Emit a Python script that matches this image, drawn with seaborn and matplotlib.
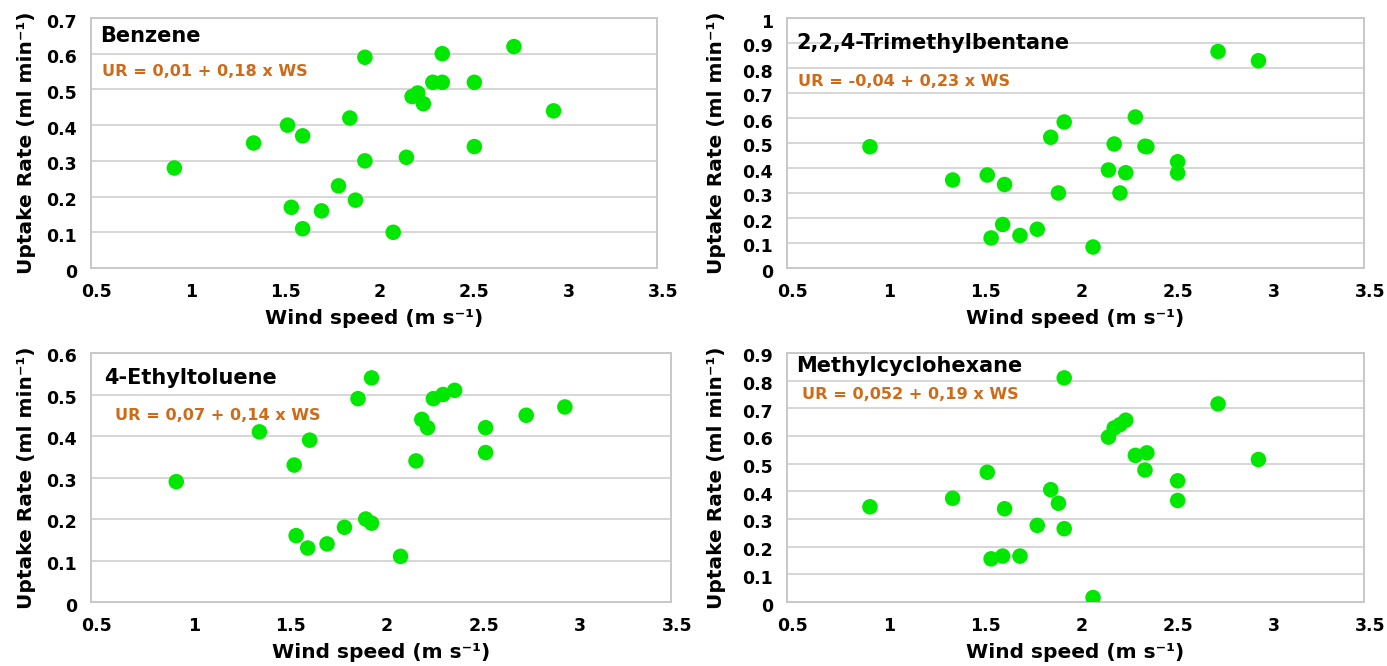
import numpy as np
import pandas as pd
import matplotlib
matplotlib.use("Agg")
import matplotlib.pyplot as plt
import matplotlib.transforms as mtransforms
from matplotlib.ticker import FuncFormatter
import seaborn as sns

# ---------------- data ----------------
titles = ["Benzene", "2,2,4-Trimethylbentane", "4-Ethyltoluene", "Methylcyclohexane"]
equations = ["UR = 0,01 + 0,18 x WS", "UR = -0,04 + 0,23 x WS",
             "UR = 0,07 + 0,14 x WS", "UR = 0,052 + 0,19 x WS"]

ws_benzene = [0.91, 1.33, 1.51, 1.59, 1.53, 1.59, 1.69, 1.78, 1.84, 1.87, 1.92, 1.92,
              2.07, 2.14, 2.17, 2.20, 2.23, 2.28, 2.33, 2.33, 2.50, 2.50, 2.71, 2.92]
ur_benzene = [0.28, 0.35, 0.40, 0.37, 0.17, 0.11, 0.16, 0.23, 0.42, 0.19, 0.59, 0.30,
              0.10, 0.31, 0.48, 0.49, 0.46, 0.52, 0.52, 0.60, 0.52, 0.34, 0.62, 0.44]

ws_trimethyl = [0.90, 1.33, 1.51, 1.60, 1.53, 1.59, 1.68, 1.77, 1.84, 1.88, 1.91, 2.06,
                2.14, 2.17, 2.20, 2.23, 2.28, 2.33, 2.34, 2.50, 2.50, 2.71, 2.92]
ur_trimethyl = [0.485, 0.352, 0.372, 0.334, 0.12, 0.174, 0.13, 0.155, 0.523, 0.30, 0.584, 0.084,
                0.392, 0.496, 0.30, 0.381, 0.604, 0.487, 0.485, 0.425, 0.38, 0.866, 0.829]

ws_ethyl = [0.91, 1.34, 1.52, 1.60, 1.53, 1.59, 1.69, 1.78, 1.85, 1.89, 1.92, 1.92,
            2.07, 2.15, 2.18, 2.21, 2.24, 2.29, 2.35, 2.51, 2.51, 2.72, 2.92]
ur_ethyl = [0.29, 0.41, 0.33, 0.39, 0.16, 0.13, 0.14, 0.18, 0.49, 0.20, 0.19, 0.54,
            0.11, 0.34, 0.44, 0.42, 0.49, 0.50, 0.51, 0.42, 0.36, 0.45, 0.47]

ws_methyl = [0.90, 1.33, 1.51, 1.60, 1.53, 1.59, 1.68, 1.77, 1.84, 1.88, 1.91, 1.91,
             2.06, 2.14, 2.17, 2.20, 2.23, 2.28, 2.34, 2.33, 2.50, 2.50, 2.71, 2.92]
ur_methyl = [0.344, 0.375, 0.469, 0.337, 0.156, 0.166, 0.166, 0.277, 0.406, 0.357, 0.81, 0.265,
             0.016, 0.596, 0.629, 0.641, 0.657, 0.53, 0.539, 0.477, 0.438, 0.367, 0.716, 0.515]

y_max = [0.7, 1.0, 0.6, 0.9]
x_ticks = [0.5, 1, 1.5, 2, 2.5, 3, 3.5]

series = [(ws_benzene, ur_benzene), (ws_trimethyl, ur_trimethyl),
          (ws_ethyl, ur_ethyl), (ws_methyl, ur_methyl)]

# ---------------- style ----------------
sns.set_style("white")
plt.rcParams["font.family"] = ["DejaVu Sans"]
plt.rcParams["font.weight"] = "bold"
for key in ["text.color", "axes.labelcolor", "xtick.color", "ytick.color",
            "xtick.labelcolor", "ytick.labelcolor"]:
    plt.rcParams[key] = "black"

W, H, DPI = 1387, 666, 100
fig = plt.figure(figsize=(W / DPI, H / DPI), dpi=DPI)

# axes boxes in pixels: left, top, right, bottom
boxes = [(91, 18, 657, 268), (787, 18, 1364, 268),
         (91, 353, 671, 602), (787, 353, 1364, 602)]
title_pos = [(0.016, 0.928), (0.016, 0.90), (0.022, 0.90), (0.016, 0.948)]
eq_pos = [(0.019, 0.784), (0.019, 0.744), (0.041, 0.751), (0.026, 0.835)]

green = "#00E800"
orange = "#CF6A17"
grid_c = "#D6D6D6"
frame_c = "#C8C8C8"

shift_x = mtransforms.ScaledTranslation(6 / DPI, 0, fig.dpi_scale_trans)
shift_y = mtransforms.ScaledTranslation(0, -2.5 / DPI, fig.dpi_scale_trans)

for i, (l, t, r, b) in enumerate(boxes):
    ax = fig.add_axes([l / W, 1 - b / H, (r - l) / W, (b - t) / H])
    ws, ur = series[i]
    df = pd.DataFrame({"ws": ws, "ur": ur})
    sns.scatterplot(data=df, x="ws", y="ur", ax=ax, color=green, s=125,
                    edgecolor="none", linewidth=0, zorder=3, legend=False)
    coll = ax.collections[-1]
    coll.set_offset_transform(ax.transData + shift_x)

    ax.set_xlim(0.5, 3.5)
    ax.set_ylim(0, y_max[i])
    ax.set_xticks(x_ticks)
    ax.set_yticks(np.round(np.arange(0, y_max[i] + 0.001, 0.1), 1))
    fmt = FuncFormatter(lambda v, p: f"{v:g}")
    ax.xaxis.set_major_formatter(fmt)
    ax.yaxis.set_major_formatter(fmt)
    ax.tick_params(axis="both", length=0, labelsize=12.5, labelcolor="black")
    ax.tick_params(axis="x", pad=11)
    ax.tick_params(axis="y", pad=10)
    for lab in ax.get_xticklabels():
        lab.set_fontweight("bold")
        lab.set_transform(lab.get_transform() + shift_x)
    for lab in ax.get_yticklabels():
        lab.set_fontweight("bold")
        lab.set_transform(lab.get_transform() + shift_y)

    ax.grid(axis="y", color=grid_c, linewidth=1.4, zorder=0)
    ax.grid(axis="x", visible=False)
    ax.set_axisbelow(True)
    for sp in ax.spines.values():
        sp.set_visible(True)
        sp.set_color(frame_c)
        sp.set_linewidth(1.4)

    ax.set_xlabel("Wind speed (m s\u207b\u00b9)", fontsize=14.5, fontweight="bold",
                  va="center", color="black")
    ax.set_ylabel("Uptake Rate (ml min\u207b\u00b9)", fontsize=14.5, fontweight="bold",
                  va="center", color="black")
    wpx = r - l
    hpx = b - t
    ylab_x = [27, 717, 27, 717][i]
    xlab_y = [318, 318, 653, 653][i]
    ax.yaxis.set_label_coords((ylab_x - l) / wpx, 0.5)
    ax.xaxis.set_label_coords(0.5, (b - xlab_y) / hpx)

    ax.text(title_pos[i][0], title_pos[i][1], titles[i], transform=ax.transAxes,
            fontsize=15, fontweight="bold", color="black", ha="left", va="center")
    ax.text(eq_pos[i][0], eq_pos[i][1], equations[i], transform=ax.transAxes,
            fontsize=11.6, fontweight="bold", color=orange, ha="left", va="center")

fig.savefig("out.png", dpi=DPI)
